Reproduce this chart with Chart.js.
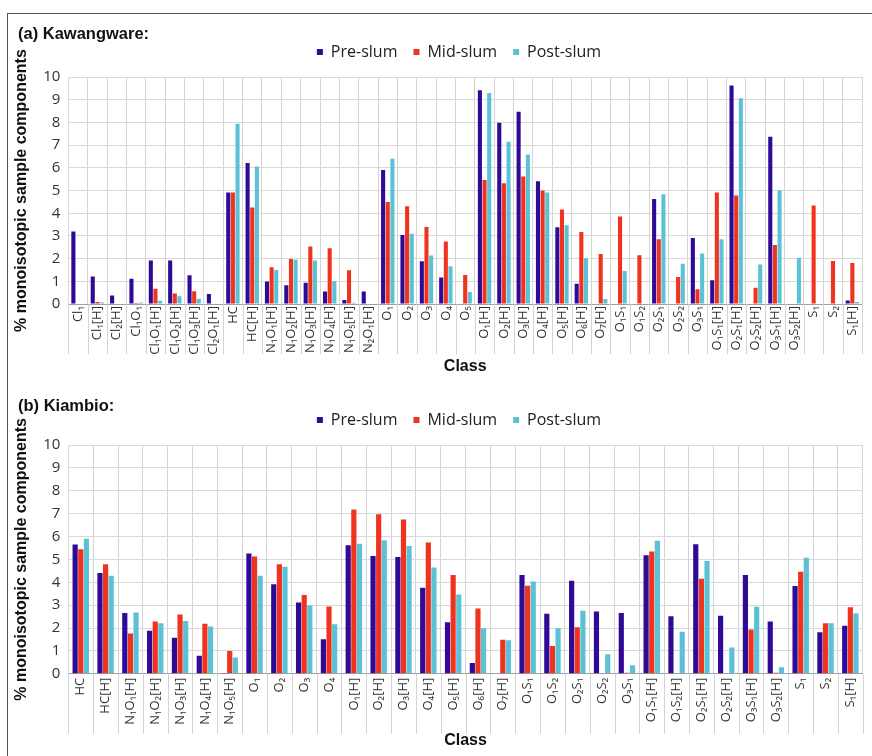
<!DOCTYPE html>
<html>
<head>
<meta charset="utf-8">
<script src="https://cdn.jsdelivr.net/npm/chart.js@4/dist/chart.umd.min.js"></script>
<style>
  body { margin: 0; background: #fff; width: 872px; height: 756px; overflow: hidden; position: relative; }
  #frame { position: absolute; left: 7px; top: 13px; width: 870px; height: 760px; border-left: 1px solid #555; border-top: 1px solid #555; }
  .title { position: absolute; left: 18px; font: bold 16.5px "Liberation Sans", Arial, sans-serif; color: #111; z-index: 2; }
  .box { position: absolute; left: 8px; width: 862px; }
</style>
</head>
<body>
<div id="frame"></div>
<div class="title" style="top:24px">(a) Kawangware:</div>
<div class="title" style="top:396px">(b) Kiambio:</div>
<div class="box" style="top:35px;height:341px"><canvas id="chartA"></canvas></div>
<div class="box" style="top:403px;height:347px"><canvas id="chartB"></canvas></div>
<script>
const seriesNames = ["Pre-slum", "Mid-slum", "Post-slum"];
const seriesColors = ["#2e0a96", "#f0331e", "#5bc2d6"];
const yTicks = [0, 1, 2, 3, 4, 5, 6, 7, 8, 9, 10];

// (a) Kawangware
const classesA = ["Cl₁", "Cl₁[H]", "Cl₂[H]", "Cl₁O₁", "Cl₁O₁[H]", "Cl₁O₂[H]", "Cl₁O₃[H]", "Cl₂O₁[H]",
  "HC", "HC[H]", "N₁O₁[H]", "N₁O₂[H]", "N₁O₃[H]", "N₁O₄[H]", "N₁O₅[H]", "N₂O₁[H]",
  "O₁", "O₂", "O₃", "O₄", "O₅", "O₁[H]", "O₂[H]", "O₃[H]", "O₄[H]", "O₅[H]", "O₆[H]", "O₇[H]",
  "O₁S₁", "O₁S₂", "O₂S₁", "O₂S₂", "O₃S₁", "O₁S₁[H]", "O₂S₁[H]", "O₂S₂[H]", "O₃S₁[H]", "O₃S₂[H]",
  "S₁", "S₂", "S₁[H]"];
const preA = [3.2, 1.22, 0.38, 1.12, 1.92, 1.92, 1.27, 0.44,
  4.91, 6.21, 1.0, 0.83, 0.94, 0.55, 0.18, 0.55,
  5.91, 3.04, 1.89, 1.17, 0, 9.42, 7.98, 8.47, 5.41, 3.38, 0.9, 0,
  0, 0, 4.63, 0, 2.91, 1.05, 9.63, 0, 7.37, 0,
  0, 0, 0.16];
const midA = [0, 0.09, 0, 0.05, 0.68, 0.47, 0.56, 0,
  4.91, 4.25, 1.62, 1.99, 2.54, 2.46, 1.49, 0,
  4.5, 4.31, 3.39, 2.76, 1.28, 5.46, 5.32, 5.62, 5.0, 4.16, 3.17, 2.21,
  3.86, 2.15, 2.85, 1.19, 0.65, 4.91, 4.78, 0.72, 2.6, 0,
  4.34, 1.9, 1.81];
const postA = [0, 0.07, 0, 0.07, 0.15, 0.35, 0.24, 0,
  7.94, 6.06, 1.5, 1.95, 1.92, 1.02, 0.06, 0,
  6.4, 3.1, 2.14, 1.67, 0.53, 9.29, 7.15, 6.59, 4.91, 3.47, 2.02, 0.22,
  1.46, 0, 4.84, 1.78, 2.23, 2.85, 9.06, 1.74, 5.01, 2.04,
  0, 0, 0.09];

// (b) Kiambio
const classesB = ["HC", "HC[H]", "N₁O₁[H]", "N₁O₂[H]", "N₁O₃[H]", "N₁O₄[H]", "N₁O₅[H]",
  "O₁", "O₂", "O₃", "O₄", "O₁[H]", "O₂[H]", "O₃[H]", "O₄[H]", "O₅[H]", "O₆[H]", "O₇[H]",
  "O₁S₁", "O₁S₂", "O₂S₁", "O₂S₂", "O₃S₁", "O₁S₁[H]", "O₁S₂[H]", "O₂S₁[H]", "O₂S₂[H]", "O₃S₁[H]", "O₃S₂[H]",
  "S₁", "S₂", "S₁[H]"];
const preB = [5.65, 4.41, 2.66, 1.88, 1.57, 0.79, 0.03,
  5.26, 3.91, 3.12, 1.51, 5.62, 5.15, 5.1, 3.76, 2.25, 0.47, 0,
  4.32, 2.62, 4.07, 2.72, 2.66, 5.18, 2.51, 5.66, 2.54, 4.32, 2.29,
  3.84, 1.81, 2.1];
const midB = [5.44, 4.79, 1.76, 2.28, 2.59, 2.19, 1.0,
  5.13, 4.79, 3.44, 2.94, 7.18, 6.97, 6.74, 5.74, 4.32, 2.85, 1.49,
  3.85, 1.21, 2.03, 0, 0.04, 5.34, 0, 4.15, 0, 1.94, 0.04,
  4.46, 2.21, 2.91];
const postB = [5.9, 4.28, 2.68, 2.21, 2.31, 2.07, 0.71,
  4.28, 4.68, 3.0, 2.16, 5.68, 5.84, 5.59, 4.65, 3.47, 1.99, 1.47,
  4.03, 1.99, 2.75, 0.85, 0.37, 5.81, 1.84, 4.93, 1.15, 2.93, 0.29,
  5.07, 2.21, 2.65];

const uiFont = '"Open Sans", "Noto Sans", sans-serif';
const boldFont = '"Liberation Sans", Arial, sans-serif';
const gridColor = "#d4d4d4";

// category separators run on down through the label area, as in the original figure
const extendGrid = {
  id: "extendGrid",
  afterDraw(chart, args, opts) {
    const x = chart.scales.x;
    const ctx = chart.ctx;
    const n = chart.data.labels.length;
    const top = chart.chartArea.bottom;
    ctx.save();
    ctx.strokeStyle = gridColor;
    ctx.lineWidth = 1;
    for (let i = 0; i <= n; i++) {
      const px = Math.round(x.getPixelForValue(i - 0.5)) + 0.5;
      ctx.beginPath();
      ctx.moveTo(px, top);
      ctx.lineTo(px, top + opts.length);
      ctx.stroke();
    }
    ctx.restore();
  }
};

// nudge the legend to sit where the original one is
const legendShift = {
  id: "legendShift",
  afterLayout(chart, args, opts) {
    const lg = chart.legend;
    lg.left += opts.dx; lg.right += opts.dx;
    lg.top += opts.dy; lg.bottom += opts.dy;
  }
};

function makeChart(id, classes, series, catPct, barPct, ext, tickPad, titlePad) {
  return new Chart(document.getElementById(id), {
    type: "bar",
    data: {
      labels: classes,
      datasets: series.map((vals, i) => ({
        label: seriesNames[i],
        data: vals,
        backgroundColor: seriesColors[i],
        borderWidth: 0,
        categoryPercentage: catPct,
        barPercentage: barPct
      }))
    },
    plugins: [extendGrid, legendShift],
    options: {
      responsive: true,
      maintainAspectRatio: false,
      animation: false,
      layout: { padding: { left: 4, right: 4, top: 0, bottom: 0 } },
      plugins: {
        tooltip: { enabled: false },
        extendGrid: { length: ext },
        legendShift: { dx: 20, dy: -7 },
        legend: {
          position: "top",
          labels: {
            boxWidth: 6, boxHeight: 6, padding: 16,
            color: "#222",
            font: { family: uiFont, size: 16 }
          }
        }
      },
      scales: {
        x: {
          grid: { offset: true, color: gridColor, drawTicks: false },
          border: { color: "#a0a0a0" },
          ticks: {
            autoSkip: false,
            minRotation: 90,
            maxRotation: 90,
            padding: tickPad,
            color: "#333",
            font: { family: uiFont, size: 13 }
          },
          title: {
            display: true,
            text: "Class",
            color: "#111",
            padding: { top: titlePad, bottom: 0 },
            font: { family: boldFont, size: 16, weight: "bold" }
          }
        },
        y: {
          min: 0,
          max: 10,
          afterBuildTicks: axis => { axis.ticks = yTicks.map(v => ({ value: v })); },
          grid: { color: "#d9d9d9", drawTicks: false },
          border: { color: "#d9d9d9" },
          ticks: {
            padding: 8,
            color: "#333",
            font: { family: uiFont, size: 15 }
          },
          title: {
            display: true,
            text: "% monoisotopic sample components",
            color: "#111",
            padding: { top: 0, bottom: 4 },
            font: { family: boldFont, size: 16, weight: "bold" }
          }
        }
      }
    }
  });
}

makeChart("chartA", classesA, [preA, midA, postA], 0.72, 0.88, 50, 2, 0);
makeChart("chartB", classesB, [preB, midB, postB], 0.68, 0.92, 60, 4, 2);
</script>
</body>
</html>
